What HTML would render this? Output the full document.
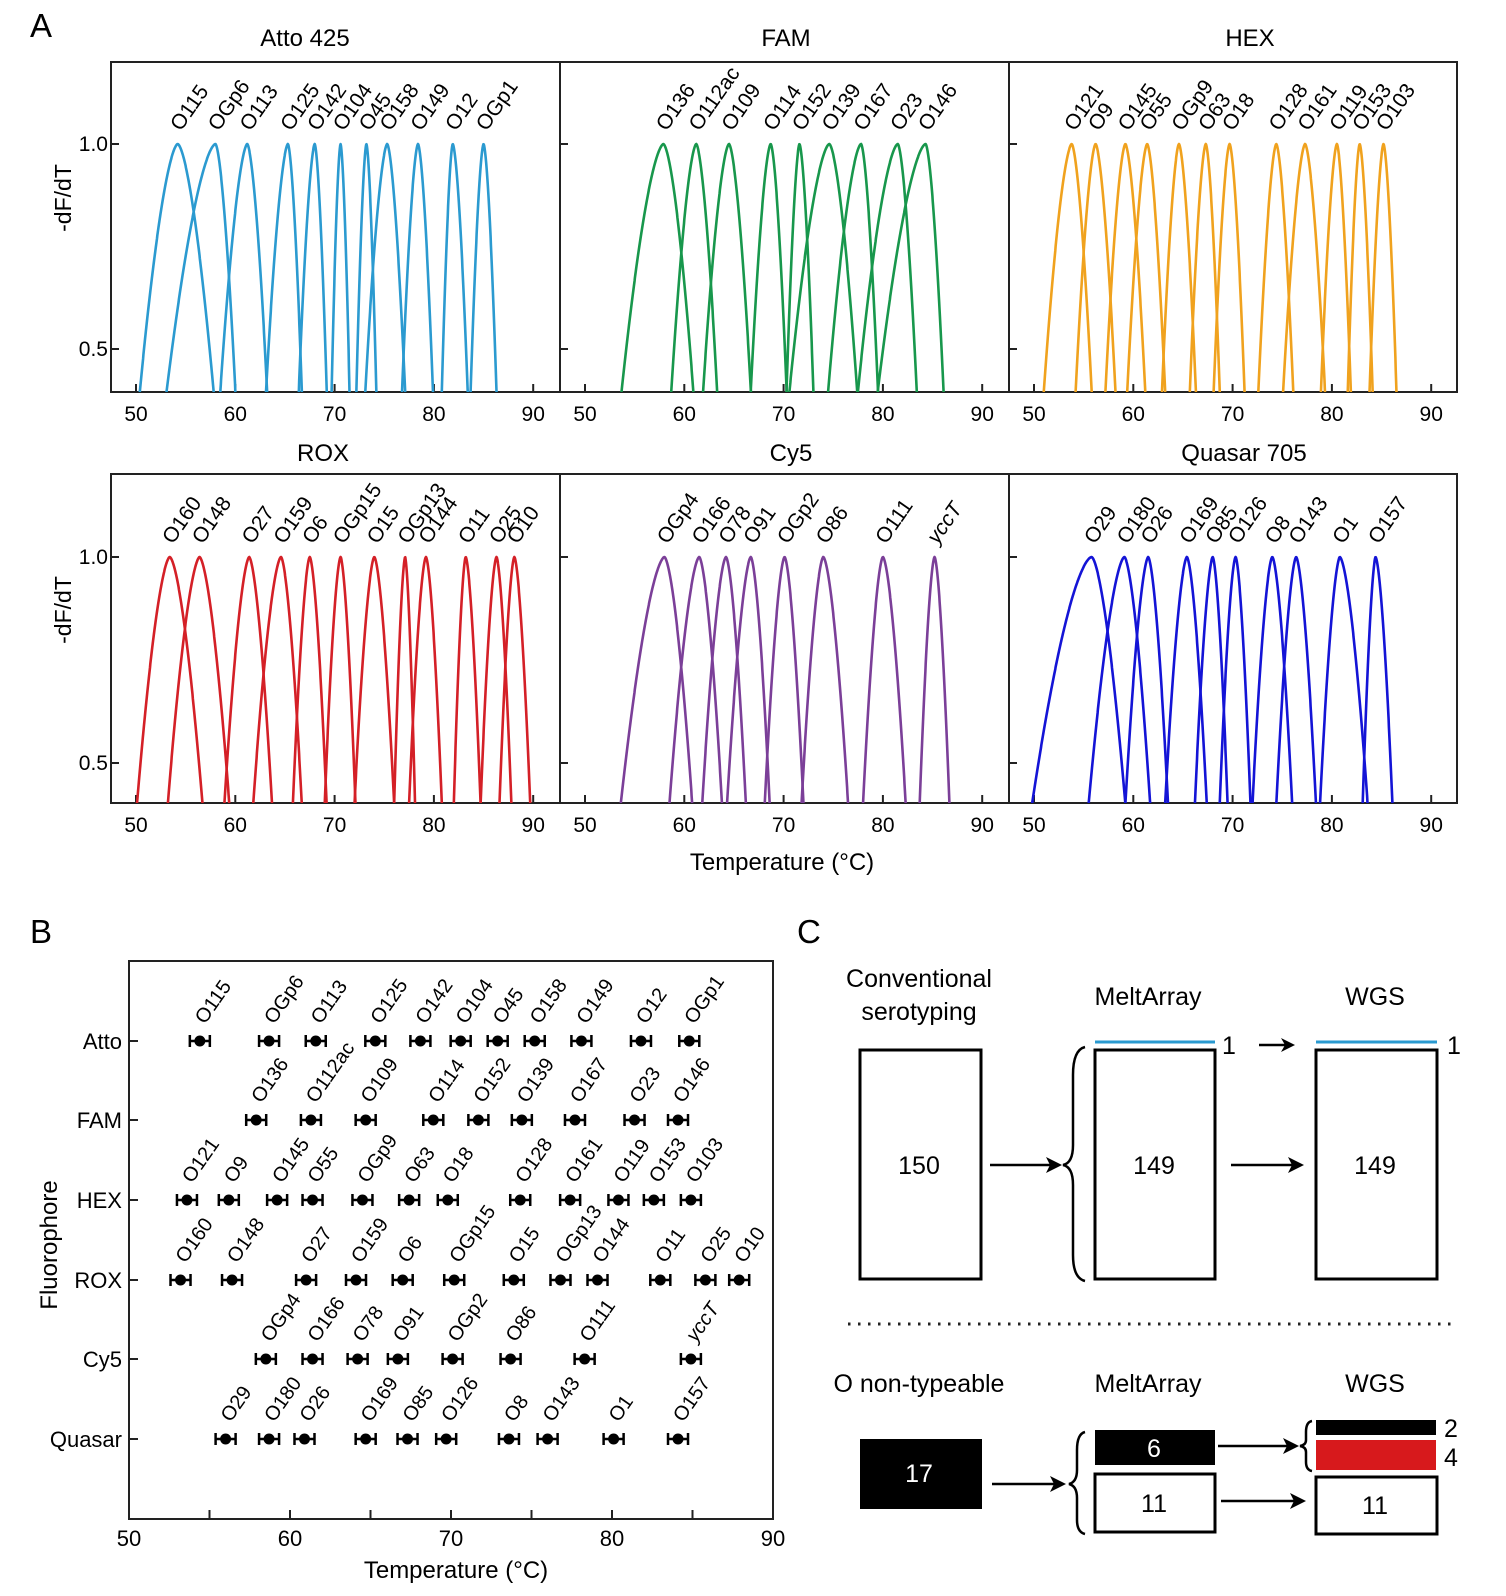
<!DOCTYPE html>
<html><head><meta charset="utf-8">
<style>
html,body{margin:0;padding:0;background:#fff;}
svg{display:block;font-family:"Liberation Sans",Arial,sans-serif;}
</style></head>
<body>
<svg id="s" width="1506" height="1596" viewBox="0 0 1506 1596" xmlns="http://www.w3.org/2000/svg">
<rect width="1506" height="1596" fill="#fff"/>
<defs>
<clipPath id="cr0"><rect x="111" y="62" width="1346" height="330"/></clipPath>
<clipPath id="cr1"><rect x="111" y="474" width="1346" height="329"/></clipPath>
</defs>
<text x="30" y="37" font-size="33">A</text>
<text x="30" y="943" font-size="33">B</text>
<text x="797" y="943" font-size="33">C</text>

<g font-size="24" text-anchor="middle">
<text x="305" y="46">Atto 425</text>
<text x="786" y="46">FAM</text>
<text x="1250" y="46">HEX</text>
<text x="323" y="461">ROX</text>
<text x="791" y="461">Cy5</text>
<text x="1244" y="461">Quasar 705</text>
<text x="782" y="870">Temperature (°C)</text>
</g>
<g font-size="23" text-anchor="middle">
<text transform="translate(71,198) rotate(-90)">-dF/dT</text>
<text transform="translate(71,610) rotate(-90)">-dF/dT</text>
</g>
<g font-size="21" text-anchor="end">
<text x="108" y="151">1.0</text>
<text x="108" y="356">0.5</text>
<text x="108" y="564">1.0</text>
<text x="108" y="770">0.5</text>
</g>
<g id="axA" stroke="#222" stroke-width="2" fill="none"></g>
<g id="ticklabA" font-size="21" text-anchor="middle"></g>
<g id="curves" fill="none" stroke-width="2.6" stroke-linejoin="round"></g>

<g font-size="21" id="lab0"><text>O115</text><text>OGp6</text><text>O113</text><text>O125</text><text>O142</text><text>O104</text><text>O45</text><text>O158</text><text>O149</text><text>O12</text><text>OGp1</text></g>
<g font-size="21" id="lab1"><text>O136</text><text>O112ac</text><text>O109</text><text>O114</text><text>O152</text><text>O139</text><text>O167</text><text>O23</text><text>O146</text></g>
<g font-size="21" id="lab2"><text>O121</text><text>O9</text><text>O145</text><text>O55</text><text>OGp9</text><text>O63</text><text>O18</text><text>O128</text><text>O161</text><text>O119</text><text>O153</text><text>O103</text></g>
<g font-size="21" id="lab3"><text>O160</text><text>O148</text><text>O27</text><text>O159</text><text>O6</text><text>OGp15</text><text>O15</text><text>OGp13</text><text>O144</text><text>O11</text><text>O25</text><text>O10</text></g>
<g font-size="21" id="lab4"><text>OGp4</text><text>O166</text><text>O78</text><text>O91</text><text>OGp2</text><text>O86</text><text>O111</text><text font-style="italic">yccT</text></g>
<g font-size="21" id="lab5"><text>O29</text><text>O180</text><text>O26</text><text>O169</text><text>O85</text><text>O126</text><text>O8</text><text>O143</text><text>O1</text><text>O157</text></g>

<rect x="129" y="961" width="644" height="558" fill="none" stroke="#222" stroke-width="2"/>
<g id="axB" stroke="#222" stroke-width="2"></g>
<g font-size="22" text-anchor="end">
<text x="122" y="1049">Atto</text>
<text x="122" y="1128">FAM</text>
<text x="122" y="1208">HEX</text>
<text x="122" y="1288">ROX</text>
<text x="122" y="1367">Cy5</text>
<text x="122" y="1447">Quasar</text>
</g>
<text transform="translate(57,1245) rotate(-90)" font-size="24" text-anchor="middle">Fluorophore</text>
<g font-size="22" text-anchor="middle">
<text x="129" y="1546">50</text><text x="290" y="1546">60</text><text x="451" y="1546">70</text><text x="612" y="1546">80</text><text x="773" y="1546">90</text>
<text x="456" y="1578" font-size="24">Temperature (°C)</text>
</g>
<g id="pts"></g>
<g font-size="20" id="bl0"><text>O115</text><text>OGp6</text><text>O113</text><text>O125</text><text>O142</text><text>O104</text><text>O45</text><text>O158</text><text>O149</text><text>O12</text><text>OGp1</text></g>
<g font-size="20" id="bl1"><text>O136</text><text>O112ac</text><text>O109</text><text>O114</text><text>O152</text><text>O139</text><text>O167</text><text>O23</text><text>O146</text></g>
<g font-size="20" id="bl2"><text>O121</text><text>O9</text><text>O145</text><text>O55</text><text>OGp9</text><text>O63</text><text>O18</text><text>O128</text><text>O161</text><text>O119</text><text>O153</text><text>O103</text></g>
<g font-size="20" id="bl3"><text>O160</text><text>O148</text><text>O27</text><text>O159</text><text>O6</text><text>OGp15</text><text>O15</text><text>OGp13</text><text>O144</text><text>O11</text><text>O25</text><text>O10</text></g>
<g font-size="20" id="bl4"><text>OGp4</text><text>O166</text><text>O78</text><text>O91</text><text>OGp2</text><text>O86</text><text>O111</text><text font-style="italic">yccT</text></g>
<g font-size="20" id="bl5"><text>O29</text><text>O180</text><text>O26</text><text>O169</text><text>O85</text><text>O126</text><text>O8</text><text>O143</text><text>O1</text><text>O157</text></g>

<g font-size="25" text-anchor="middle">
<text x="919" y="987">Conventional</text>
<text x="919" y="1020">serotyping</text>
<text x="1148" y="1005">MeltArray</text>
<text x="1375" y="1005">WGS</text>
<text x="919" y="1392">O non-typeable</text>
<text x="1148" y="1392">MeltArray</text>
<text x="1375" y="1392">WGS</text>
</g>
<g fill="none" stroke="#000" stroke-width="3">
<rect x="860" y="1050" width="121" height="229"/>
<rect x="1095" y="1050" width="120" height="229"/>
<rect x="1316" y="1050" width="121" height="229"/>
<rect x="1095" y="1474" width="120" height="58"/>
<rect x="1316" y="1477" width="121" height="57"/>
</g>
<line x1="1095" y1="1042" x2="1215" y2="1042" stroke="#2a9ad0" stroke-width="3"/>
<line x1="1316" y1="1042" x2="1437" y2="1042" stroke="#2a9ad0" stroke-width="3"/>
<rect x="860" y="1439" width="122" height="70" fill="#000"/>
<rect x="1095" y="1430" width="120" height="35" fill="#000"/>
<rect x="1316" y="1420" width="120" height="15" fill="#000"/>
<rect x="1316" y="1440" width="120" height="30" fill="#d7191c"/>
<g font-size="25" text-anchor="middle">
<text x="919" y="1174">150</text>
<text x="1154" y="1174">149</text>
<text x="1375" y="1174">149</text>
<text x="919" y="1482" fill="#fff">17</text>
<text x="1154" y="1457" fill="#fff">6</text>
<text x="1154" y="1512">11</text>
<text x="1375" y="1514">11</text>
</g>
<g font-size="25">
<text x="1222" y="1054">1</text>
<text x="1447" y="1054">1</text>
<text x="1444" y="1437">2</text>
<text x="1444" y="1466">4</text>
</g>
<g stroke="#000" stroke-width="2.5" fill="none">
<line x1="990" y1="1165" x2="1054" y2="1165"/>
<line x1="1231" y1="1165" x2="1296" y2="1165"/>
<line x1="1259" y1="1045" x2="1288" y2="1045"/>
<line x1="992" y1="1484" x2="1056" y2="1484"/>
<line x1="1218" y1="1446" x2="1291" y2="1446"/>
<line x1="1221" y1="1501" x2="1298" y2="1501"/>
<path d="M1085,1047 Q1073,1050 1073,1075 L1073,1145 Q1073,1163 1063,1165 Q1073,1167 1073,1185 L1073,1255 Q1073,1278 1085,1281"/>
<path d="M1085,1432 Q1077,1434 1077,1450 L1077,1470 Q1077,1482 1069,1484 Q1077,1486 1077,1498 L1077,1520 Q1077,1532 1085,1534"/>
<path d="M1312,1421 Q1306,1422 1306,1432 L1306,1440 Q1306,1445 1300,1446 Q1306,1447 1306,1452 L1306,1462 Q1306,1470 1312,1471"/>
</g>
<g fill="#000">
<path d="M1062,1165 L1046,1157 L1050,1165 L1046,1173 Z"/>
<path d="M1304,1165 L1288,1157 L1292,1165 L1288,1173 Z"/>
<path d="M1295,1045 L1281,1038 L1285,1045 L1281,1052 Z"/>
<path d="M1066,1484 L1050,1476 L1054,1484 L1050,1492 Z"/>
<path d="M1299,1446 L1283,1438 L1287,1446 L1283,1454 Z"/>
<path d="M1306,1501 L1290,1493 L1294,1501 L1290,1509 Z"/>
</g>
<line x1="848" y1="1324" x2="1457" y2="1324" stroke="#222" stroke-width="3" stroke-dasharray="2.5,7.5"/>
</svg>
<script>
(function(){
var NS="http://www.w3.org/2000/svg";
function el(t,a,p){var e=document.createElementNS(NS,t);for(var k in a)e.setAttribute(k,a[k]);if(p)p.appendChild(e);return e;}
var P=[
{col:'#2b9ad0',pk:[[54.2,3.8,3.6],[58.0,4.9,2.0],[61.2,2.7,2.0],[65.3,2.2,1.4],[68.0,1.6,1.2],[70.6,0.9,0.9],[73.2,1.0,1.0],[75.3,2.2,1.8],[78.4,1.6,1.5],[81.9,1.1,1.5],[85.0,1.3,1.3]]},
{col:'#18974c',pk:[[57.9,4.2,3.0],[61.2,2.5,2.1],[64.5,2.6,2.2],[68.7,2.0,1.6],[71.6,1.3,1.4],[74.6,4.0,2.8],[77.8,3.3,1.7],[81.5,4.0,1.9],[84.3,4.8,1.8]]},
{col:'#f0a21e',pk:[[53.8,2.8,2.0],[56.2,2.0,2.0],[59.2,2.0,2.0],[61.4,2.0,1.8],[64.6,1.7,1.7],[67.3,1.6,1.4],[69.7,1.6,1.5],[74.4,1.8,1.7],[77.3,2.2,2.0],[80.5,1.6,1.4],[82.8,1.2,1.3],[85.2,1.4,1.3]]},
{col:'#d42027',pk:[[53.4,3.3,3.3],[56.4,3.2,3.0],[61.4,2.5,2.3],[64.6,2.8,2.1],[67.5,1.7,1.7],[70.6,1.6,1.5],[74.0,2.0,2.0],[77.1,1.1,1.0],[79.2,1.7,1.6],[83.2,1.2,1.5],[86.3,1.6,1.5],[88.1,1.5,1.6]]},
{col:'#7b3f98',pk:[[58.0,4.4,2.8],[61.5,3.0,2.3],[64.2,2.4,2.0],[66.7,2.4,1.9],[70.1,2.0,1.9],[74.0,2.2,2.5],[80.0,2.0,2.3],[85.2,1.5,1.5]]},
{col:'#1414d6',pk:[[55.8,6.0,3.4],[59.1,3.6,2.6],[61.5,2.3,2.0],[65.4,2.2,2.0],[68.0,1.8,1.5],[70.3,1.6,1.5],[74.0,2.0,2.0],[76.4,2.0,2.0],[80.8,2.0,2.8],[84.4,1.3,1.7]]}
];
var ax=document.getElementById('axA'),tl=document.getElementById('ticklabA'),cv=document.getElementById('curves');
var tops=[62,474],bots=[392,803],y1s=[144,557],sc=[410,412];
for(var r=0;r<2;r++){
 el('rect',{x:111,y:tops[r],width:1346,height:bots[r]-tops[r]},ax);
 for(var c=1;c<3;c++){var xx=111+449*c;el('line',{x1:xx,y1:tops[r],x2:xx,y2:bots[r]},ax);}
 for(var c=0;c<3;c++){
  var x0=136+449*c;
  for(var t=0;t<=4;t++){var xx=x0+t*99.3;el('line',{x1:xx,y1:bots[r],x2:xx,y2:bots[r]-8},ax);
   var tx=el('text',{x:xx,y:bots[r]+29},tl);tx.textContent=String(50+10*t);}
  var xl=111+449*c;
  el('line',{x1:xl,y1:y1s[r],x2:xl+8,y2:y1s[r]},ax);
  el('line',{x1:xl,y1:y1s[r]+sc[r]/2,x2:xl+8,y2:y1s[r]+sc[r]/2},ax);
 }
}
for(var k=0;k<6;k++){
 var r=Math.floor(k/3),c=k%3,p=P[k];
 var X=function(T){return 136+449*c+(T-50)*9.93;};
 var g=el('g',{'clip-path':'url(#cr'+r+')',stroke:p.col},cv);
 var labs=document.getElementById('lab'+k).children;
 for(var i=0;i<p.pk.length;i++){
  var q=p.pk[i],d='';
  for(var T=q[0]-q[1]*1.15;T<=q[0]+q[2]*1.15+1e-6;T+=0.04){
   var u=(T-q[0])/(T<q[0]?q[1]:q[2]);var v=1-0.6*Math.pow(Math.abs(u),1.6);
   var y=y1s[r]+(1-v)*sc[r];d+=(d?'L':'M')+X(T).toFixed(1)+','+y.toFixed(1);
  }
  el('path',{d:d},g);
  if(labs[i]){var lx=X(q[0])+3,ly=y1s[r]-12;labs[i].setAttribute('x',lx);labs[i].setAttribute('y',ly);labs[i].setAttribute('transform','rotate(-55 '+lx+' '+ly+')');}
 }
}
var B=[[54.4,58.7,61.6,65.3,68.1,70.6,72.9,75.2,78.1,81.8,84.8],
[57.9,61.3,64.7,68.9,71.7,74.4,77.7,81.4,84.1],
[53.6,56.2,59.2,61.4,64.5,67.4,69.8,74.3,77.4,80.4,82.6,84.9],
[53.2,56.4,61.0,64.1,67.0,70.2,73.9,76.8,79.1,83.0,85.8,87.9],
[58.5,61.4,64.2,66.7,70.1,73.7,78.3,84.9],
[56.0,58.7,60.9,64.7,67.3,69.7,73.6,76.0,80.1,84.1]];
var rows=[1041,1120,1200,1280,1359,1439];
var axB=document.getElementById('axB'),pts=document.getElementById('pts');
for(var t=55;t<=85;t+=5){var xx=129+(t-50)*16.1;el('line',{x1:xx,y1:1519,x2:xx,y2:1510},axB);}
for(var k=0;k<6;k++){
 el('line',{x1:129,y1:rows[k],x2:138,y2:rows[k]},axB);
 var labs=document.getElementById('bl'+k).children;
 for(var i=0;i<B[k].length;i++){
  var xx=129+(B[k][i]-50)*16.1,y=rows[k];
  el('line',{x1:xx-10,y1:y,x2:xx+10,y2:y,stroke:'#000','stroke-width':2.5},pts);
  el('line',{x1:xx-10,y1:y-6,x2:xx-10,y2:y+6,stroke:'#000','stroke-width':2.5},pts);
  el('line',{x1:xx+10,y1:y-6,x2:xx+10,y2:y+6,stroke:'#000','stroke-width':2.5},pts);
  el('circle',{cx:xx,cy:y,r:5.5,fill:'#000'},pts);
  if(labs[i]){var lx=xx+5,ly=y-16;labs[i].setAttribute('x',lx);labs[i].setAttribute('y',ly);labs[i].setAttribute('transform','rotate(-55 '+lx+' '+ly+')');}
 }
}
})();
</script>
</body></html>
